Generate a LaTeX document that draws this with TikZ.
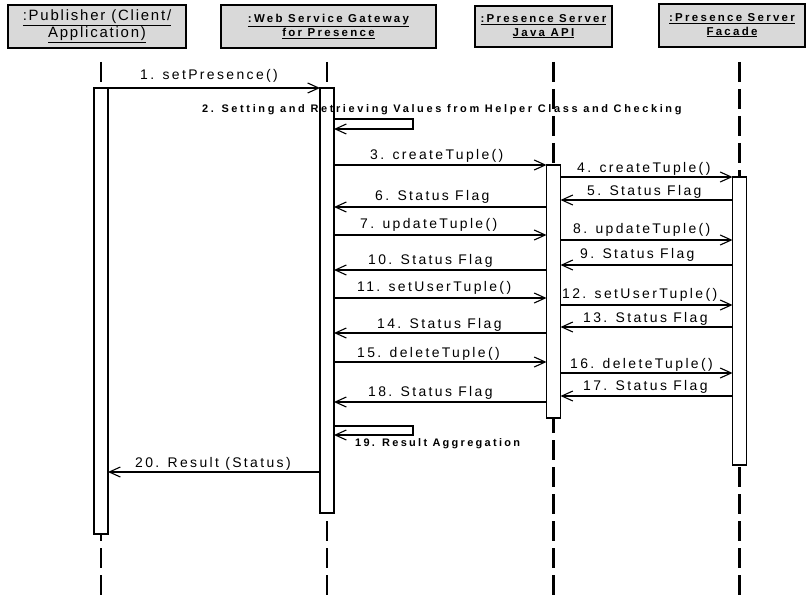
\documentclass[tikz,border=0pt]{standalone}
\usepackage{fontspec}
\setmainfont{Liberation Sans}
\newfontfamily\msgfont[LetterSpace=17]{Liberation Sans}
\newfontfamily\notefont[LetterSpace=24]{Liberation Sans}
\newfontfamily\notefontb[LetterSpace=21]{Liberation Sans}
\newfontfamily\headfont[LetterSpace=12]{Liberation Sans}
\newfontfamily\headsmall[LetterSpace=20]{Liberation Sans}
\usetikzlibrary{arrows.meta}
\begin{document}
\begin{tikzpicture}[x=1bp,y=-1bp,
  hdr/.style={draw=black, line width=1.5bp, fill=black!15, inner sep=0pt, outer sep=0pt, align=center},
  hdrbig/.style={hdr, font=\headfont\fontsize{15}{15}\selectfont},
  hdrsmall/.style={hdr, font=\headsmall\bfseries\fontsize{11.5}{13.5}\selectfont},
  life/.style={line width=2.2bp, dash pattern=on 20bp off 7bp},
  actbar/.style={draw=black, line width=1.4bp, fill=white, inner sep=0pt, outer sep=0pt, minimum width=14bp, anchor=north},
  msg/.style={line width=1.1bp, -{Straight Barb[length=11bp,width=10bp,line width=1.1bp]}},
  lbl/.style={anchor=base west, inner sep=0pt, font=\msgfont\fontsize{14}{16}\selectfont},
  note/.style={anchor=base west, inner sep=0pt, font=\notefont\bfseries\fontsize{11}{13}\selectfont},
  noteb/.style={note, font=\notefontb\bfseries\fontsize{11}{13}\selectfont},
]
\useasboundingbox (0,0) rectangle (808,595);
\fill[white] (0,0) rectangle (808,595);

% headers
\node[hdrbig, minimum width=178bp, minimum height=43bp] (pub) at (97,26.5)
  {\underline{:Publisher (Client/}\\\underline{Application)}};
\node[hdrsmall, minimum width=215bp, minimum height=43bp] (gw) at (328.5,26.5)
  {\underline{:Web Service Gateway}\\\underline{for Presence}};
\node[hdrsmall, minimum width=137bp, minimum height=41bp] (jv) at (543.5,26.5)
  {\underline{:Presence Server}\\\underline{Java API}};
\node[hdrsmall, minimum width=146bp, minimum height=43bp] (fc) at (732,25.5)
  {\underline{:Presence Server}\\\underline{Facade}};

% lifeline ends
\coordinate (pubT) at (101,62);  \coordinate (pubB) at (101,595);
\coordinate (gwT) at (327,62);   \coordinate (gwB) at (327,595);
\coordinate (jvT) at (553.5,62); \coordinate (jvB) at (553.5,595);
\coordinate (fcT) at (739.5,62); \coordinate (fcB) at (739.5,595);
\draw[life] (pubT) -- (pubB);
\draw[life] (gwT) -- (gwB);
\draw[life] (jvT) -- (jvB);
\draw[life] (fcT) -- (fcB);

% activation bars
\node[actbar, minimum height=446bp] (pubbar) at (101,88) {};
\node[actbar, minimum height=425bp] (gwbar) at (327,88) {};
\node[actbar, minimum height=253bp] (jbar) at (553.5,165) {};
\node[actbar, minimum height=288bp] (fbar) at (739.5,177) {};

% message levels
\coordinate (y2a) at (0,119); \coordinate (loopA) at (413,119); \coordinate (y2b) at (0,129);
\coordinate (y5) at (0,200);
\coordinate (y6) at (0,207);
\coordinate (y7) at (0,235);
\coordinate (y8) at (0,240);
\coordinate (y9) at (0,265);
\coordinate (y10) at (0,270);
\coordinate (y11) at (0,298);
\coordinate (y12) at (0,305);
\coordinate (y13) at (0,327);
\coordinate (y14) at (0,333);
\coordinate (y15) at (0,362);
\coordinate (y16) at (0,373);
\coordinate (y17) at (0,396);
\coordinate (y18) at (0,402);
\coordinate (y19a) at (0,426); \coordinate (loopB) at (413,426); \coordinate (y19b) at (0,435);
\coordinate (y20) at (0,472);

% messages
\draw[msg] (pubbar.north west) -- (gwbar.north west);
\draw[msg] (gwbar.east |- y2a) -- (loopA) |- (gwbar.east |- y2b);
\draw[msg] (gwbar.north east |- jbar.north) -- (jbar.north west);
\draw[msg] (jbar.east |- fbar.north) -- (fbar.north west);
\draw[msg] (fbar.west |- y5) -- (jbar.east |- y5);
\draw[msg] (jbar.west |- y6) -- (gwbar.east |- y6);
\draw[msg] (gwbar.east |- y7) -- (jbar.west |- y7);
\draw[msg] (jbar.east |- y8) -- (fbar.west |- y8);
\draw[msg] (fbar.west |- y9) -- (jbar.east |- y9);
\draw[msg] (jbar.west |- y10) -- (gwbar.east |- y10);
\draw[msg] (gwbar.east |- y11) -- (jbar.west |- y11);
\draw[msg] (jbar.east |- y12) -- (fbar.west |- y12);
\draw[msg] (fbar.west |- y13) -- (jbar.east |- y13);
\draw[msg] (jbar.west |- y14) -- (gwbar.east |- y14);
\draw[msg] (gwbar.east |- y15) -- (jbar.west |- y15);
\draw[msg] (jbar.east |- y16) -- (fbar.west |- y16);
\draw[msg] (fbar.west |- y17) -- (jbar.east |- y17);
\draw[msg] (jbar.west |- y18) -- (gwbar.east |- y18);
\draw[msg] (gwbar.east |- y19a) -- (loopB) |- (gwbar.east |- y19b);
\draw[msg] (gwbar.west |- y20) -- (pubbar.east |- y20);

% labels
\node[lbl] (l1) at (140,80) {1. setPresence()};
\node[note] (l2) at (202,113) {2. Setting and Retrieving Values from Helper Class and Checking};
\node[lbl] (l3) at (370,160) {3. createTuple()};
\node[lbl] (l4) at (577,173) {4. createTuple()};
\node[lbl] (l5) at (587,196) {5. Status Flag};
\node[lbl] (l6) at (375,201) {6. Status Flag};
\node[lbl] (l7) at (360,229) {7. updateTuple()};
\node[lbl] (l8) at (573,234) {8. updateTuple()};
\node[lbl] (l9) at (580,258) {9. Status Flag};
\node[lbl] (l10) at (368,264) {10. Status Flag};
\node[lbl] (l11) at (357,291) {11. setUserTuple()};
\node[lbl] (l12) at (562,298) {12. setUserTuple()};
\node[lbl] (l13) at (583,322) {13. Status Flag};
\node[lbl] (l14) at (377,328) {14. Status Flag};
\node[lbl] (l15) at (357,357) {15. deleteTuple()};
\node[lbl] (l16) at (570,368) {16. deleteTuple()};
\node[lbl] (l17) at (583,390) {17. Status Flag};
\node[lbl] (l18) at (368,396) {18. Status Flag};
\node[noteb] (l19) at (355,446) {19. Result Aggregation};
\node[lbl] (l20) at (135,467) {20. Result (Status)};
\end{tikzpicture}
\end{document}
